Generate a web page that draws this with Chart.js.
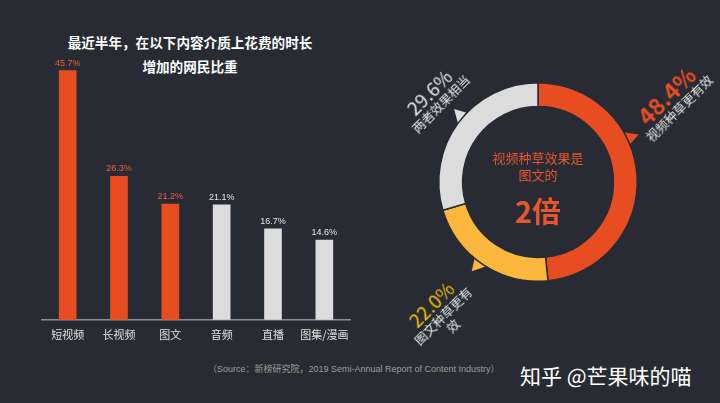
<!DOCTYPE html>
<html>
<head>
<meta charset="utf-8">
<script src="https://cdn.jsdelivr.net/npm/chart.js@4"></script>
<style>
  html, body { margin: 0; padding: 0; }
  body { width: 720px; height: 403px; background: #282b33; position: relative; overflow: hidden;
         font-family: "Noto Sans CJK SC", "Liberation Sans", sans-serif; }
  .abs { position: absolute; }
  #bars { position: absolute; left: 40px; top: 50px; }
  #ring { position: absolute; left: 418px; top: 62px; }
  .title { left: 40px; width: 300px; text-align: center; color: #fff; font-weight: bold; font-size: 13.6px; line-height: 16px; }
  .mid { width: 140px; left: 468px; text-align: center; color: #e8552b; }
  .rot { transform: translate(-50%, -50%) rotate(-45deg); text-align: center; white-space: nowrap; color: #e6e6e6; }
  .rot .pct { font-size: 19px; line-height: 20px; }
  .rot .txt { font-size: 12.5px; line-height: 14px; }
  .src { left: 208px; top: 362px; color: #9c9c9c; font-size: 9px; font-family: "Liberation Sans", "Noto Sans CJK SC", sans-serif; }
  .zh { left: 520px; top: 360px; color: #fff; font-size: 21px; }
</style>
</head>
<body>
<div class="abs title" style="top:34px">最近半年，在以下内容介质上花费的时长</div>
<div class="abs title" style="top:58px">增加的网民比重</div>

<canvas id="bars" width="315" height="291"></canvas>
<canvas id="ring" width="240" height="240"></canvas>

<div class="abs mid" style="top:149px;font-size:13px;line-height:17px">视频种草效果是<br>图文的</div>
<div class="abs mid" style="top:193px;font-size:29px;font-weight:bold;line-height:34px">2倍</div>

<div class="abs rot" id="lblA" style="left:671px;top:100px"></div>
<div class="abs rot" id="lblB" style="left:441px;top:314px"></div>
<div class="abs rot" id="lblC" style="left:434px;top:97px"></div>

<div class="abs src">（Source：新榜研究院，2019 Semi-Annual Report of Content Industry）</div>
<div class="abs zh">知乎 @芒果味的喵</div>

<script>
// bar chart data
const categories = ['短视频', '长视频', '图文', '音频', '直播', '图集/漫画'];
const shares = [45.7, 26.3, 21.2, 21.1, 16.7, 14.6];
const barColors = ['#e84d22', '#e84d22', '#e84d22', '#dcdcdc', '#dcdcdc', '#dcdcdc'];
const valueColors = ['#e8603a', '#e8603a', '#e8603a', '#e6e6e6', '#e6e6e6', '#e6e6e6'];

// doughnut data
const ringLabels = ['视频种草更有效', '图文种草更有效', '两者效果相当'];
const ringValues = [48.4, 22.0, 29.6];
const ringColors = ['#e84d22', '#fbb63c', '#dcdcdc'];
const pctColors = ['#e84d22', '#f2c000', '#e6e6e6'];
const tailAt = [0.365, 0.52, 0.53]; // where the little tabs sit on each arc

// value labels above bars
const barValues = {
  id: 'barValues',
  afterDatasetsDraw(chart) {
    const ctx = chart.ctx;
    ctx.save();
    ctx.font = '9px "Liberation Sans", sans-serif';
    ctx.textAlign = 'center';
    ctx.textBaseline = 'bottom';
    chart.getDatasetMeta(0).data.forEach((bar, i) => {
      ctx.fillStyle = valueColors[i];
      ctx.fillText(shares[i].toFixed(1) + '%', bar.x, bar.y - 3);
    });
    ctx.restore();
  }
};

new Chart(document.getElementById('bars'), {
  type: 'bar',
  data: {
    labels: categories,
    datasets: [{ data: shares, backgroundColor: barColors, barThickness: 17 }]
  },
  options: {
    responsive: false,
    animation: false,
    layout: { padding: { top: 8, left: 2, right: 5 } },
    plugins: { legend: { display: false }, tooltip: { enabled: false } },
    scales: {
      x: {
        grid: { display: false },
        border: { display: true, color: '#8a8d94', width: 1.5 },
        ticks: { color: '#e0e0e0', font: { size: 11, family: '"Noto Sans CJK SC"' }, padding: 0,
                 maxRotation: 0, minRotation: 0, autoSkip: false }
      },
      y: { display: false, min: 0, max: 48 }
    }
  },
  plugins: [barValues]
});

// small speech-bubble tabs on the ring
const ringTails = {
  id: 'ringTails',
  beforeDatasetsDraw(chart) {
    const ctx = chart.ctx;
    ctx.save();
    chart.getDatasetMeta(0).data.forEach((arc, i) => {
      const a = arc.startAngle + tailAt[i] * (arc.endAngle - arc.startAngle);
      const r = arc.outerRadius;
      const d = 0.09;
      ctx.fillStyle = ringColors[i];
      ctx.beginPath();
      ctx.moveTo(arc.x + (r - 3) * Math.cos(a - d), arc.y + (r - 3) * Math.sin(a - d));
      ctx.lineTo(arc.x + (r + 12) * Math.cos(a + 0.02), arc.y + (r + 12) * Math.sin(a + 0.02));
      ctx.lineTo(arc.x + (r - 3) * Math.cos(a + d), arc.y + (r - 3) * Math.sin(a + d));
      ctx.closePath();
      ctx.fill();
    });
    ctx.restore();
  }
};

new Chart(document.getElementById('ring'), {
  type: 'doughnut',
  data: {
    labels: ringLabels,
    datasets: [{ data: ringValues, backgroundColor: ringColors, borderColor: '#282b33', borderWidth: 1.5 }]
  },
  options: {
    responsive: false,
    animation: false,
    cutout: '76%',
    layout: { padding: 20 },
    plugins: { legend: { display: false }, tooltip: { enabled: false } }
  },
  plugins: [ringTails]
});

// rotated ring labels
['lblA', 'lblB', 'lblC'].forEach((id, i) => {
  const el = document.getElementById(id);
  let txt = ringLabels[i];
  if (i === 1) txt = txt.slice(0, 6) + '<br>' + txt.slice(6);
  const bold = i === 0 ? 'font-weight:bold;font-size:23px;line-height:24px;' : '';
  el.innerHTML = '<div class="pct" style="color:' + pctColors[i] + ';' + bold + '">' +
    ringValues[i].toFixed(1) + '%</div><div class="txt">' + txt + '</div>';
});
</script>
</body>
</html>
